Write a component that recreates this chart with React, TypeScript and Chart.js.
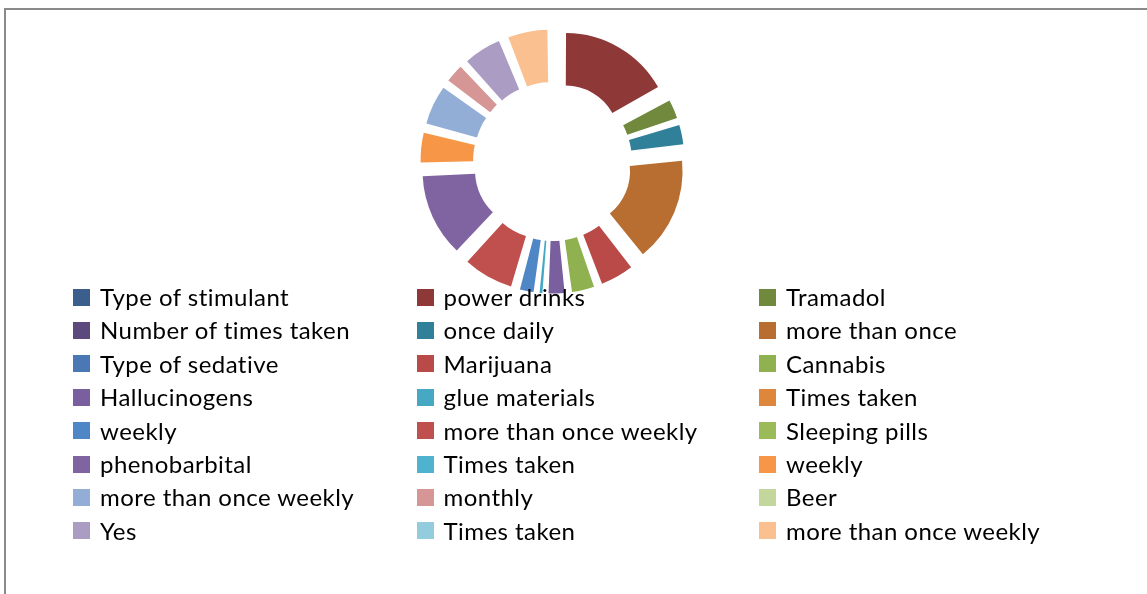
import React, { useEffect, useRef } from "react";
import { Chart, registerables } from "chart.js";

Chart.register(...registerables);

const categories: string[] = [
  "Type of stimulant", "power drinks", "Tramadol",
  "Number of times taken", "once daily", "more than once",
  "Type of sedative", "Marijuana", "Cannabis",
  "Hallucinogens", "glue materials", "Times taken",
  "weekly", "more than once weekly", "Sleeping pills",
  "phenobarbital", "Times taken", "weekly",
  "more than once weekly", "monthly", "Beer",
  "Yes", "Times taken", "more than once weekly",
];

const values: number[] = [
  0, 17, 3.2,
  0, 3.3, 16,
  0, 5.2, 3.7,
  2.8, 1.0, 0,
  2.5, 7.6, 0,
  12.5, 0, 4.7,
  6.1, 3.1, 0,
  5.8, 0, 6.1,
];

const colors: string[] = [
  "#3B5E8C", "#8E3937", "#71893D",
  "#5D4A7C", "#31809A", "#B86E30",
  "#4A78B4", "#BA4A47", "#8FB14F",
  "#7A5F9E", "#46A8C3", "#DE873C",
  "#4F86C6", "#C0504D", "#9BBB59",
  "#8064A2", "#4FB3CF", "#F79646",
  "#93AED6", "#D69695", "#C3D69B",
  "#AB9CC4", "#93CDDD", "#FAC090",
];

const EXPLODE = 29; // desired outward shift in px

export default function App() {
  const canvasRef = useRef<HTMLCanvasElement | null>(null);

  useEffect(() => {
    if (!canvasRef.current) return;
    const total = values.reduce((a, b) => a + b, 0);
    const offsetFn = (ctx: any) => {
      const v = Number(ctx.dataset.data[ctx.dataIndex]) || 0;
      const circ = (v / total) * Math.PI * 2;
      const fix = 1 - Math.sin(Math.min(Math.PI, circ));
      const o = EXPLODE / (1 + fix);
      return o * 4;
    };
    const chart = new Chart(canvasRef.current, {
      type: "doughnut",
      data: {
        labels: categories,
        datasets: [
          {
            data: values,
            backgroundColor: colors,
            borderWidth: 0,
            offset: offsetFn as any,
          },
        ],
      },
      options: {
        responsive: false,
        animation: false,
        radius: 103,
        cutout: "49%",
        layout: { padding: { left: 0, right: 42, top: 0, bottom: 271 } },
        plugins: {
          legend: { display: false },
          tooltip: { enabled: false },
        },
      } as any,
    });
    return () => chart.destroy();
  }, []);

  const colX = [73, 416.5, 759];
  const rowY0 = 288;
  const rowStep = 33.4;

  return (
    <div
      style={{
        position: "absolute",
        left: 0,
        top: 0,
        width: 1147,
        height: 594,
        background: "#ffffff",
        overflow: "hidden",
      }}
    >
      <div
        style={{
          position: "absolute",
          left: 4,
          top: 8,
          width: 1160,
          height: 600,
          borderTop: "2px solid #8a8a8a",
          borderLeft: "2px solid #8a8a8a",
          boxSizing: "border-box",
        }}
      />
      <canvas
        ref={canvasRef}
        width={1147}
        height={594}
        style={{ position: "absolute", left: 0, top: 0 }}
      />
      {categories.map((label, i) => {
        const col = i % 3;
        const row = Math.floor(i / 3);
        return (
          <div
            key={i}
            style={{
              position: "absolute",
              left: colX[col],
              top: rowY0 + row * rowStep,
              height: 18,
              display: "flex",
              alignItems: "center",
              whiteSpace: "nowrap",
              fontFamily: "Lato, 'Open Sans', sans-serif",
              fontSize: 24,
              letterSpacing: "0.45px",
              color: "#000",
            }}
          >
            <span
              style={{
                display: "inline-block",
                width: 17,
                height: 17,
                background: colors[i],
                marginRight: 10,
                flex: "0 0 auto",
              }}
            />
            <span style={{ lineHeight: "18px" }}>{label}</span>
          </div>
        );
      })}
    </div>
  );
}
